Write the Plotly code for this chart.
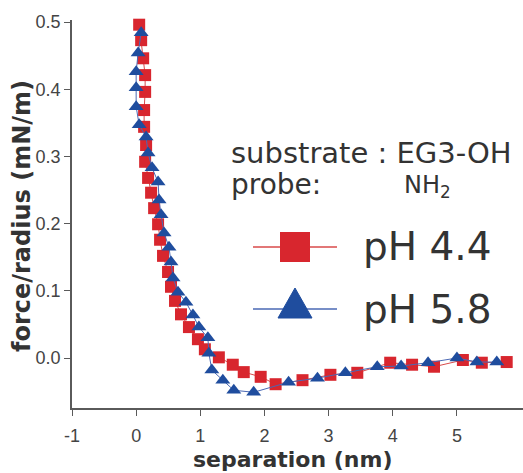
import plotly.graph_objects as go

# ---------------- data ----------------
ph44_x = [0.047, 0.078, 0.109, 0.140, 0.140, 0.124, 0.124, 0.155, 0.140, 0.186,
          0.233, 0.280, 0.342, 0.373, 0.419, 0.497, 0.543, 0.606, 0.699, 0.823,
          0.963, 1.071, 1.289, 1.506, 1.677, 1.941, 2.174, 2.593, 3.028, 3.447,
          3.960, 4.301, 4.643, 5.093, 5.388, 5.776]
ph44_y = [0.496, 0.473, 0.446, 0.421, 0.396, 0.369, 0.344, 0.317, 0.292, 0.268,
          0.246, 0.223, 0.199, 0.176, 0.152, 0.128, 0.106, 0.085, 0.065, 0.046,
          0.028, 0.013, 0.001, -0.010, -0.021, -0.028, -0.039, -0.033, -0.025, -0.022,
          -0.007, -0.010, -0.013, -0.003, -0.007, -0.006]

ph58_x = [0.078, 0.031, 0.000, 0.000, 0.000, 0.047, 0.155, 0.186, 0.248, 0.342,
          0.357, 0.388, 0.435, 0.512, 0.543, 0.575, 0.652, 0.776, 0.885, 0.978,
          1.118, 1.134, 1.180, 1.351, 1.522, 1.832, 2.376, 2.826, 3.261, 3.758,
          4.130, 4.550, 5.000, 5.311, 5.621]
ph58_y = [0.484, 0.454, 0.426, 0.402, 0.374, 0.347, 0.329, 0.305, 0.283, 0.262,
          0.235, 0.213, 0.186, 0.165, 0.143, 0.119, 0.098, 0.083, 0.064, 0.046,
          0.030, 0.007, -0.018, -0.033, -0.048, -0.051, -0.036, -0.030, -0.022, -0.013,
          -0.012, -0.007, 0.000, -0.006, -0.006]

series_names = ["pH 4.4", "pH 5.8"]
x_tick_vals = [-1, 0, 1, 2, 3, 4, 5]
y_tick_vals = [0.0, 0.1, 0.2, 0.3, 0.4, 0.5]
x_title = "separation (nm)"
y_title = "force/radius (mN/m)"
info_lines = ["substrate : EG3-OH", "probe:", "NH<sub>2</sub>"]

# ---------------- styling ----------------
W, H = 523, 473
L, R, T, B = 72, 0, 20, 65
X_RANGE = [-1, 6.03]
Y_RANGE = [-0.0744, 0.503]

RED = "#d8262e"
RED_LINE = "#d84a4a"
BLUE = "#1f4d9e"
BLUE_LINE = "#4a68b4"
AXIS = "#5a5a5a"
TXT = "#333333"

PW, PH = W - L - R, H - T - B


def px_x(p):
    return (p - L) / PW


def px_y(p):
    return (H - B - p) / PH


fig = go.Figure()

fig.add_trace(go.Scatter(
    x=ph44_x, y=ph44_y, mode="lines+markers", name=series_names[0],
    marker=dict(symbol="square", size=12, color=RED),
    line=dict(color=RED_LINE, width=1), cliponaxis=False, showlegend=False))
fig.add_trace(go.Scatter(
    x=ph58_x, y=ph58_y, mode="lines+markers", name=series_names[1],
    marker=dict(symbol="triangle-up", size=13, color=BLUE),
    line=dict(color=BLUE_LINE, width=1), cliponaxis=False, showlegend=False))

# ---- custom legend drawn on a hidden pixel-space overlay axis ----
PXA = dict(xaxis="x2", yaxis="y2", showlegend=False, hoverinfo="skip", cliponaxis=False)
fig.add_trace(go.Scatter(x=[253, 295, 337], y=[247, 247, 247], mode="lines",
                         line=dict(color=RED_LINE, width=1.5), **PXA))
fig.add_trace(go.Scatter(x=[295], y=[247], mode="markers",
                         marker=dict(symbol="square", size=30, color=RED), **PXA))
fig.add_trace(go.Scatter(x=[253, 295, 337], y=[309, 309, 309], mode="lines",
                         line=dict(color=BLUE_LINE, width=1.5), **PXA))
fig.add_trace(go.Scatter(x=[278, 312, 295, 278], y=[318, 318, 288, 318], mode="lines",
                         fill="toself", fillcolor=BLUE, line=dict(color=BLUE, width=1), **PXA))

ann = []
ann.append(dict(x=229, y=153, text=info_lines[0], xanchor="left", yanchor="middle",
                font=dict(family="DejaVu Sans", size=29, color=TXT)))
ann.append(dict(x=229, y=184, text=info_lines[1], xanchor="left", yanchor="middle",
                font=dict(family="DejaVu Sans", size=28, color=TXT)))
ann.append(dict(x=402, y=186, text=info_lines[2], xanchor="left", yanchor="middle",
                font=dict(family="DejaVu Sans", size=24, color=TXT)))
ann.append(dict(x=361, y=247, text=series_names[0], xanchor="left", yanchor="middle",
                font=dict(family="DejaVu Sans", size=39, color=TXT)))
ann.append(dict(x=361, y=309, text=series_names[1], xanchor="left", yanchor="middle",
                font=dict(family="DejaVu Sans", size=39, color=TXT)))
ann.append(dict(x=293, y=459, text=f"<b>{x_title}</b>", xanchor="center", yanchor="middle",
                font=dict(family="DejaVu Sans", size=22, color=TXT)))
ann.append(dict(x=22, y=216, text=f"<b>{y_title}</b>", textangle=-90, xanchor="center", yanchor="middle",
                font=dict(family="DejaVu Sans", size=24, color=TXT)))
for a in ann:
    a.update(x=px_x(a["x"]), y=px_y(a["y"]), xref="paper", yref="paper", showarrow=False)

fig.update_layout(
    width=W, height=H,
    margin=dict(l=L, r=R, t=T, b=B, pad=0),
    paper_bgcolor="white", plot_bgcolor="white",
    showlegend=False,
    annotations=ann,
    xaxis=dict(range=X_RANGE, tickvals=x_tick_vals, ticktext=[str(v) for v in x_tick_vals],
               showgrid=False, zeroline=False, showline=True, linecolor=AXIS, linewidth=1.5,
               ticks="outside", ticklen=6, tickcolor=AXIS, tickwidth=1,
               ticklabelstandoff=5,
               tickfont=dict(family="Liberation Sans", size=18, color="#444444"),
               mirror=False, fixedrange=True),
    yaxis=dict(range=Y_RANGE, tickvals=y_tick_vals, ticktext=[f"{v:.1f}" for v in y_tick_vals],
               showgrid=False, zeroline=False, showline=True, linecolor=AXIS, linewidth=1.5,
               ticks="outside", ticklen=6, tickcolor=AXIS, tickwidth=1,
               tickfont=dict(family="Liberation Sans", size=18, color="#444444"),
               mirror=False, fixedrange=True),
    xaxis2=dict(overlaying="x", anchor="y2", range=[L, W - R], visible=False, fixedrange=True),
    yaxis2=dict(overlaying="y", anchor="x2", range=[H - B, T], visible=False, fixedrange=True),
)

fig.write_html("out.html")
